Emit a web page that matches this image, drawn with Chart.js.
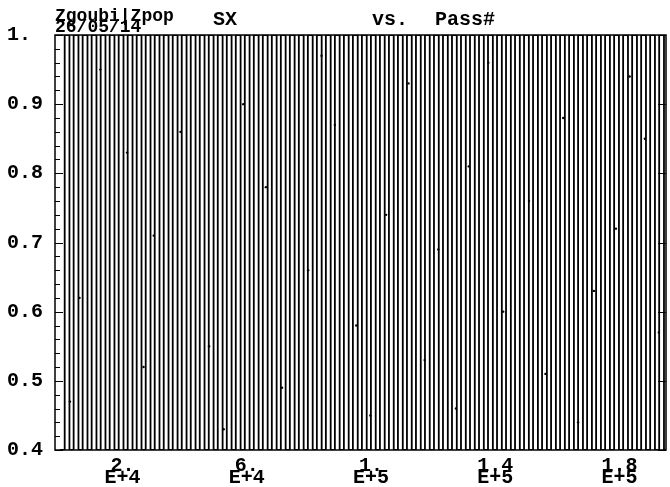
<!DOCTYPE html>
<html lang="en">
<head>
  <meta charset="UTF-8">
  <title>Zgoubi SX vs. Pass#</title>
  <script src="https://cdn.jsdelivr.net/npm/chart.js"></script>
  <style>
    html, body { margin: 0; padding: 0; background: #fff; }
    #wrap { width: 670px; height: 487px; position: relative; }
  </style>
</head>
<body>
  <div id="wrap"><canvas id="sxChart"></canvas></div>

  <script>
    // Pass number of each swing of SX (between 0.4 and 1.0)
    const passNo = [
      0, 1420, 2950, 4300, 5850, 7200, 8760, 10100, 11650, 13000,
      14550, 15900, 17440, 18800, 20350, 21700, 23260, 24600, 26150, 27500,
      29050, 30400, 31940, 33300, 34850, 36200, 37760, 39100, 40650, 42000,
      43550, 44900, 46440, 47800, 49350, 50700, 52260, 53600, 55150, 56500,
      58050, 59400, 60940, 62300, 63850, 65200, 66760, 68100, 69650, 71000,
      72550, 73900, 75440, 76800, 78350, 79700, 81260, 82600, 84150, 85500,
      87050, 88400, 89940, 91300, 92850, 94200, 95760, 97100, 98650, 100000,
      101550, 102900, 104440, 105800, 107350, 108700, 110260, 111600, 113150, 114500,
      116050, 117400, 118940, 120300, 121850, 123200, 124760, 126100, 127650, 129000,
      130550, 131900, 133440, 134800, 136350, 137700, 139260, 140600, 142150, 143500,
      145050, 146400, 147940, 149300, 150850, 152200, 153760, 155100, 156650, 158000,
      159550, 160900, 162440, 163800, 165350, 166700, 168260, 169600, 171150, 172500,
      174050, 175400, 176940, 178300, 179850, 181200, 182760, 184100, 185650, 187000,
      188550, 189900, 191440, 192800, 194350, 195700
    ];
    const sxVal = [
      0.4, 1.0, 0.4, 1.0, 0.4, 1.0, 0.4, 1.0, 0.4, 1.0,
      0.4, 1.0, 0.4, 1.0, 0.4, 1.0, 0.4, 1.0, 0.4, 1.0,
      0.4, 1.0, 0.4, 1.0, 0.4, 1.0, 0.4, 1.0, 0.4, 1.0,
      0.4, 1.0, 0.4, 1.0, 0.4, 1.0, 0.4, 1.0, 0.4, 1.0,
      0.4, 1.0, 0.4, 1.0, 0.4, 1.0, 0.4, 1.0, 0.4, 1.0,
      0.4, 1.0, 0.4, 1.0, 0.4, 1.0, 0.4, 1.0, 0.4, 1.0,
      0.4, 1.0, 0.4, 1.0, 0.4, 1.0, 0.4, 1.0, 0.4, 1.0,
      0.4, 1.0, 0.4, 1.0, 0.4, 1.0, 0.4, 1.0, 0.4, 1.0,
      0.4, 1.0, 0.4, 1.0, 0.4, 1.0, 0.4, 1.0, 0.4, 1.0,
      0.4, 1.0, 0.4, 1.0, 0.4, 1.0, 0.4, 1.0, 0.4, 1.0,
      0.4, 1.0, 0.4, 1.0, 0.4, 1.0, 0.4, 1.0, 0.4, 1.0,
      0.4, 1.0, 0.4, 1.0, 0.4, 1.0, 0.4, 1.0, 0.4, 1.0,
      0.4, 1.0, 0.4, 1.0, 0.4, 1.0, 0.4, 1.0, 0.4, 1.0,
      0.4, 1.0, 0.4, 1.0, 0.4, 1.0
    ];
    // stray samples caught mid-swing
    const dotPass = [3100, 6200, 12900, 21500, 26800, 30100, 38700, 47900, 52600, 58900, 66200, 71400, 79800, 84100, 88400, 95300, 99800, 104900, 112100, 117300, 121700, 127400, 131500, 137800, 142600, 150900, 156200, 161900, 166700, 171800, 178900, 183300, 188200, 192700];
    const dotSx = [0.47, 0.62, 0.95, 0.83, 0.52, 0.71, 0.86, 0.55, 0.43, 0.90, 0.78, 0.49, 0.66, 0.97, 0.87, 0.58, 0.45, 0.74, 0.93, 0.53, 0.69, 0.46, 0.81, 0.96, 0.60, 0.76, 0.51, 0.88, 0.44, 0.63, 0.72, 0.94, 0.85, 0.57];

    const yTicks = [0.4, 0.5, 0.6, 0.7, 0.8, 0.9, 1.0];
    const yLabels = ['0.4', '0.5', '0.6', '0.7', '0.8', '0.9', '1.'];
    const xTicks = [20000, 60000, 100000, 140000, 180000];
    const xLabels = [['2.', 'E+4'], ['6.', 'E+4'], ['1.', 'E+5'], ['1.4', 'E+5'], ['1.8', 'E+5']];

    const monoFont = '"Liberation Mono", "DejaVu Sans Mono", monospace';

    // frame, inward ticks and header text
    const framePlugin = {
      id: 'frame',
      afterDraw(chart) {
        const ctx = chart.ctx;
        const a = chart.chartArea;
        const ys = chart.scales.y;
        ctx.save();
        ctx.strokeStyle = '#000';
        ctx.lineWidth = 1.5;
        ctx.strokeRect(a.left, a.top, a.right - a.left, a.bottom - a.top);
        ctx.lineWidth = 1;
        ctx.beginPath();
        for (let i = 0; i <= 30; i++) {
          const v = 0.4 + i * 0.02;
          const py = Math.round(ys.getPixelForValue(v)) + 0.5;
          const len = (i % 5 === 0) ? 8 : 5;
          ctx.moveTo(a.left, py); ctx.lineTo(a.left + len, py);
          if (i % 5 === 0) { ctx.moveTo(a.right, py); ctx.lineTo(a.right - len, py); }
        }
        ctx.stroke();

        ctx.fillStyle = '#000';
        ctx.textBaseline = 'alphabetic';
        ctx.textAlign = 'left';
        ctx.font = 'bold 18px ' + monoFont;
        ctx.fillText('Zgoubi|Zpop', 55, 21);
        ctx.fillText('26/05/14', 55, 32);
        ctx.font = 'bold 20px ' + monoFont;
        ctx.fillText('SX', 213, 25);
        ctx.fillText('vs.', 372, 25);
        ctx.fillText('Pass#', 435, 25);
        ctx.restore();
      }
    };

    new Chart(document.getElementById('sxChart'), {
      type: 'scatter',
      data: {
        datasets: [{
          data: passNo.map((p, i) => ({ x: p, y: sxVal[i] })),
          showLine: true,
          stepped: true,
          borderColor: '#000',
          borderWidth: 1.8,
          pointRadius: 0
        }, {
          data: dotPass.map((p, i) => ({ x: p, y: dotSx[i] })),
          showLine: false,
          pointRadius: 1.2,
          pointBackgroundColor: '#000',
          pointBorderWidth: 0
        }]
      },
      options: {
        animation: false,
        responsive: true,
        maintainAspectRatio: false,
        layout: { padding: { left: 7, right: 2, top: 35, bottom: 0 } },
        plugins: {
          legend: { display: false },
          tooltip: { enabled: false }
        },
        scales: {
          x: {
            type: 'linear',
            min: -1700,
            max: 195000,
            afterBuildTicks: s => { s.ticks = xTicks.map(v => ({ value: v })); },
            afterFit: s => { s.height = 37; },
            ticks: {
              callback: (v, i) => xLabels[i],
              color: '#000',
              padding: 2,
              maxRotation: 0,
              autoSkip: false,
              font: { family: monoFont, size: 20, weight: 'bold', lineHeight: 0.6 }
            },
            grid: { display: false },
            border: { display: false }
          },
          y: {
            min: 0.4,
            max: 1.0,
            afterBuildTicks: s => { s.ticks = yTicks.map(v => ({ value: v })); },
            afterFit: s => { s.width = 48; },
            ticks: {
              callback: (v, i) => yLabels[i],
              color: '#000',
              crossAlign: 'far',
              padding: 4,
              font: { family: monoFont, size: 20, weight: 'bold' }
            },
            grid: { display: false },
            border: { display: false }
          }
        }
      },
      plugins: [framePlugin]
    });
  </script>
</body>
</html>
